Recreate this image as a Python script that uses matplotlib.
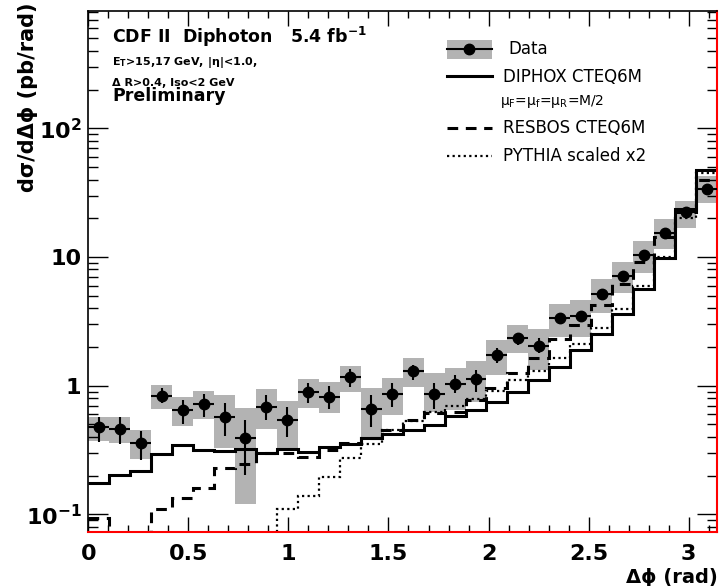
import numpy as np
import matplotlib
matplotlib.use('Agg')
import matplotlib.pyplot as plt
from matplotlib.patches import Rectangle
from matplotlib.lines import Line2D
from matplotlib.ticker import MultipleLocator, LogLocator, NullFormatter, FuncFormatter

plt.rcParams['font.family'] = ['DejaVu Sans']
plt.rcParams['mathtext.fontset'] = 'dejavusans'

# 30 bins in delta phi, 0..pi
n_bins = 30
edges = np.linspace(0, np.pi, n_bins + 1)

data = np.array([0.480, 0.458, 0.360, 0.831, 0.647, 0.720, 0.574, 0.390, 0.686, 0.541,
                 0.897, 0.820, 1.17, 0.658, 0.857, 1.29, 0.861, 1.03, 1.12, 1.73,
                 2.33, 2.03, 3.34, 3.48, 5.13, 7.11, 10.4, 15.4, 22.5, 33.8])
stat_lo = np.array([0.365, 0.350, 0.264, 0.729, 0.504, 0.574, 0.407, 0.202, 0.541, 0.396,
                    0.738, 0.658, 0.98, 0.480, 0.686, 1.10, 0.658, 0.871, 0.897, 1.51,
                    2.07, 1.78, 3.05, 3.14, 4.76, 6.60, 9.6, 14.4, 21.5, 31.5])
stat_hi = np.array([0.574, 0.567, 0.448, 0.953, 0.774, 0.861, 0.729, 0.541, 0.846, 0.686,
                    1.04, 0.994, 1.36, 0.846, 1.04, 1.45, 1.05, 1.21, 1.32, 1.95,
                    2.55, 2.33, 3.61, 3.80, 5.47, 7.66, 11.0, 16.3, 23.4, 36.3])
sys_lo = np.array([0.371, 0.356, 0.269, 0.658, 0.486, 0.551, 0.326, 0.120, 0.460, 0.326,
                   0.667, 0.609, 0.897, 0.390, 0.591, 0.971, 0.627, 0.647, 0.750, 1.21,
                   1.78, 1.32, 2.40, 2.40, 3.65, 5.22, 7.55, 11.5, 16.7, 26.1])
sys_hi = np.array([0.574, 0.567, 0.452, 1.02, 0.812, 0.908, 0.846, 0.667, 0.937, 0.764,
                   1.12, 1.06, 1.43, 0.953, 1.14, 1.63, 1.25, 1.38, 1.55, 2.26,
                   2.96, 2.74, 4.29, 4.63, 6.70, 9.19, 13.3, 19.6, 27.4, 42.6])

diphox = [0.174, 0.202, 0.217, 0.294, 0.346, 0.316, 0.310, 0.320, 0.301, 0.322,
          0.307, 0.332, 0.352, 0.390, 0.421, 0.452, 0.494, 0.581, 0.647, 0.750,
          0.897, 1.106, 1.39, 1.89, 2.52, 3.60, 5.61, 9.87, 23.5, 47.4]
resbos = [0.093, 0.05, 0.05, 0.110, 0.133, 0.161, 0.230, 0.245, 0.300, 0.298,
          0.280, 0.316, 0.356, 0.390, 0.45, 0.54, 0.610, 0.621, 0.773, 0.953,
          1.25, 1.63, 2.29, 2.96, 4.24, 6.13, 9.19, 14.4, 22.5, 39.6]
pythia = [0.03, 0.03, 0.03, 0.03, 0.03, 0.03, 0.03, 0.03, 0.05, 0.110,
          0.139, 0.195, 0.272, 0.352, 0.456, 0.536, 0.624, 0.689, 0.787, 0.908,
          1.106, 1.30, 1.63, 2.11, 2.79, 3.92, 5.95, 9.94, 20.2, 44.7]

ytick_vals = [0.1, 1, 10, 100]
ytick_labels = [r'$\mathbf{10^{-1}}$', '1', '10', r'$\mathbf{10^{2}}$']

gray = '#b3b3b3'
centers = 0.5 * (edges[1:] + edges[:-1])
bw = edges[1] - edges[0]

fig = plt.figure(figsize=(7.23, 5.86), dpi=100)
ax = fig.add_axes([88.3 / 723, 1 - 531.7 / 586, 628.7 / 723, 520.7 / 586])

ax.bar(centers, sys_hi - sys_lo, bottom=sys_lo, width=bw, color=gray, lw=0, zorder=1)
ax.stairs(diphox, edges, baseline=None, color='k', lw=2.2, zorder=2)
ax.stairs(resbos, edges, baseline=None, color='k', lw=2.2, ls=(0, (3.5, 2.5)), zorder=2)
ax.stairs(pythia, edges, baseline=None, color='k', lw=1.6, ls=(0, (1, 1.5)), zorder=2)
ax.errorbar(centers, data, yerr=[data - stat_lo, stat_hi - data], xerr=bw / 2,
            fmt='o', color='k', ms=7.5, elinewidth=1.5, capsize=0, zorder=4)

ax.set_yscale('log')
ax.set_xlim(0, np.pi)
ax.set_ylim(0.0733, 817)

ax.xaxis.set_major_locator(MultipleLocator(0.5))
ax.xaxis.set_minor_locator(MultipleLocator(0.1))
ax.xaxis.set_major_formatter(FuncFormatter(lambda v, p: f'{v:g}'))
ax.set_yticks(ytick_vals, ytick_labels)
ax.yaxis.set_minor_locator(LogLocator(base=10, subs=np.arange(2, 10), numticks=20))
ax.yaxis.set_minor_formatter(NullFormatter())

ax.tick_params(which='both', direction='in', top=True, right=True, width=1)
ax.tick_params(axis='x', which='major', length=10.8, pad=9, labelsize=16)
ax.tick_params(axis='x', which='minor', length=5)
ax.tick_params(axis='y', which='major', length=14.4, pad=5, labelsize=16)
ax.tick_params(axis='y', which='minor', length=7.2)
for lbl in ax.get_xticklabels() + ax.get_yticklabels():
    lbl.set_fontweight('bold')

for s in ['left', 'top']:
    ax.spines[s].set_linewidth(1.2)
for s in ['bottom', 'right']:
    ax.spines[s].set_color('red')
    ax.spines[s].set_linewidth(1.5)

# labels
fig.text(28 / 723, 1 - 2 / 586, 'dσ/dΔϕ (pb/rad)', rotation=90, ha='center', va='top',
         fontsize=15, fontweight='bold')
fig.text(0.993, 0.0137, 'Δϕ (rad)', ha='right', va='center', fontsize=14, fontweight='bold')

# top-left annotation
tx = 0.0377
ax.text(tx, 0.939, r'CDF II  Diphoton   5.4 fb$^{\mathbf{-1}}$', transform=ax.transAxes,
        fontsize=12.5, fontweight='bold', va='baseline')
ax.text(tx, 0.896, r'E$_{\mathbf{T}}$>15,17 GeV, |η|<1.0,', transform=ax.transAxes,
        fontsize=8, fontweight='bold', va='baseline')
ax.text(tx, 0.8565, 'Δ R>0.4, Iso<2 GeV', transform=ax.transAxes,
        fontsize=8, fontweight='bold', va='baseline')
ax.text(tx, 0.8271, 'Preliminary', transform=ax.transAxes,
        fontsize=12.5, fontweight='bold', va='baseline')

# legend, drawn by hand (ROOT style)
lx0, lx1 = 0.570, 0.6417
ax.add_patch(Rectangle((lx0, 0.9078), lx1 - lx0, 0.0362, transform=ax.transAxes,
                       color=gray, lw=0, clip_on=False))
ax.add_line(Line2D([lx0, lx1], [0.9264, 0.9264], transform=ax.transAxes, color='k', lw=1.5))
ax.add_line(Line2D([0.5 * (lx0 + lx1)], [0.9264], transform=ax.transAxes, color='k',
                   marker='o', ms=7.5))
ax.text(0.668, 0.917, 'Data', transform=ax.transAxes, fontsize=12, va='baseline')
ax.add_line(Line2D([lx0, lx1], [0.8752, 0.8752], transform=ax.transAxes, color='k', lw=2.2))
ax.text(0.660, 0.8643, 'DIPHOX CTEQ6M', transform=ax.transAxes, fontsize=12, va='baseline')
ax.text(0.655, 0.8195, r'μ$_\mathrm{F}$=μ$_\mathrm{f}$=μ$_\mathrm{R}$=M/2',
        transform=ax.transAxes, fontsize=10, va='baseline')
ax.add_line(Line2D([lx0, lx1], [0.7747, 0.7747], transform=ax.transAxes, color='k', lw=2.2,
                   ls=(0, (3.5, 2.5))))
ax.text(0.660, 0.765, 'RESBOS CTEQ6M', transform=ax.transAxes, fontsize=12, va='baseline')
ax.add_line(Line2D([lx0, lx1], [0.7215, 0.7215], transform=ax.transAxes, color='k', lw=1.6,
                   ls=(0, (1, 1.5))))
ax.text(0.660, 0.712, 'PYTHIA scaled x2', transform=ax.transAxes, fontsize=12, va='baseline')

fig.savefig('out.png', dpi=100)
